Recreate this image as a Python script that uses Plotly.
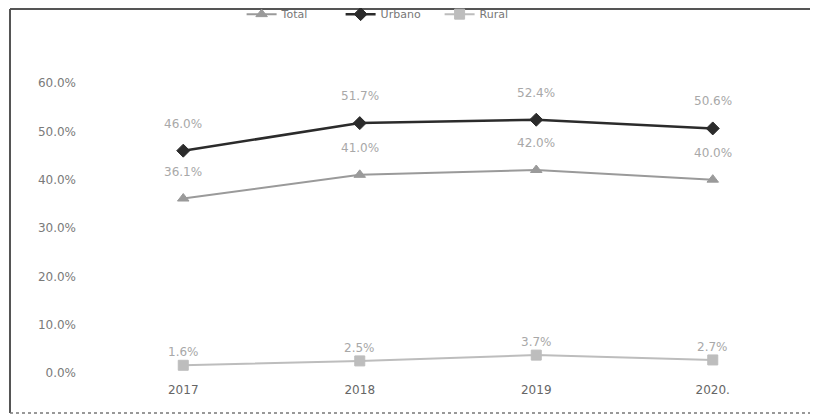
import plotly.graph_objects as go

years = ["2017", "2018", "2019", "2020."]
total = [36.1, 41.0, 42.0, 40.0]
urbano = [46.0, 51.7, 52.4, 50.6]
rural = [1.6, 2.5, 3.7, 2.7]
y_ticks = [0, 10, 20, 30, 40, 50, 60]

FONT = "DejaVu Sans"

series = [
    ("Total", total, "#9a9a9a", "triangle-up", 2, 27),
    ("Urbano", urbano, "#2b2b2b", "diamond", 2.5, 27),
    ("Rural", rural, "#bdbdbd", "square", 2, 13),
]

fig = go.Figure()
annotations = []
for name, vals, color, sym, lw, shift in series:
    fig.add_trace(go.Scatter(
        x=years, y=vals, name=name, mode="lines+markers",
        line=dict(color=color, width=lw),
        marker=dict(symbol=sym, size=10, color=color,
                    line=dict(color=color, width=1)),
    ))
    for i, yv in enumerate(vals):
        annotations.append(dict(
            x=i, y=yv, xref="x", yref="y", text=f"{yv:.1f}%",
            showarrow=False, yshift=shift,
            font=dict(size=12, color="#a8a8a8", family=FONT),
        ))

x_left, x_right, y_top, y_bot = -0.1204, 1.1, 1.255, -0.138
frame = dict(color="#555555", width=2)

fig.update_layout(
    width=810, height=409,
    margin=dict(l=87, r=17, t=75, b=44, autoexpand=False),
    paper_bgcolor="white", plot_bgcolor="white",
    font=dict(family=FONT, size=11, color="#777777"),
    showlegend=True,
    legend=dict(orientation="h", x=0.418, xanchor="center",
                yref="container", y=0.985, yanchor="middle",
                entrywidth=54, entrywidthmode="pixels",
                font=dict(size=11, color="#777777", family=FONT),
                bgcolor="rgba(0,0,0,0)"),
    annotations=annotations,
    xaxis=dict(type="category", range=[-0.5, 3.5], showgrid=False, zeroline=False,
               showline=False, ticks="", ticklabelstandoff=8,
               tickfont=dict(size=12, color="#666666", family=FONT)),
    yaxis=dict(range=[0, 60], tickvals=y_ticks,
               ticktext=[f"{v:.1f}%" for v in y_ticks],
               showgrid=False, zeroline=False, showline=False, ticks="",
               ticklabelstandoff=18,
               tickfont=dict(size=12, color="#7a7a7a", family=FONT)),
    shapes=[
        dict(type="line", xref="paper", yref="paper", x0=x_left, x1=x_right,
             y0=y_top, y1=y_top, line=frame, layer="below"),
        dict(type="line", xref="paper", yref="paper", x0=x_left, x1=x_left,
             y0=y_top, y1=y_bot, line=frame, layer="below"),
        dict(type="line", xref="paper", yref="paper", x0=x_left, x1=x_right,
             y0=y_bot, y1=y_bot, line=dict(color="#777777", width=1.5, dash="dot"),
             layer="below"),
    ],
)

fig.write_html("out.html")
